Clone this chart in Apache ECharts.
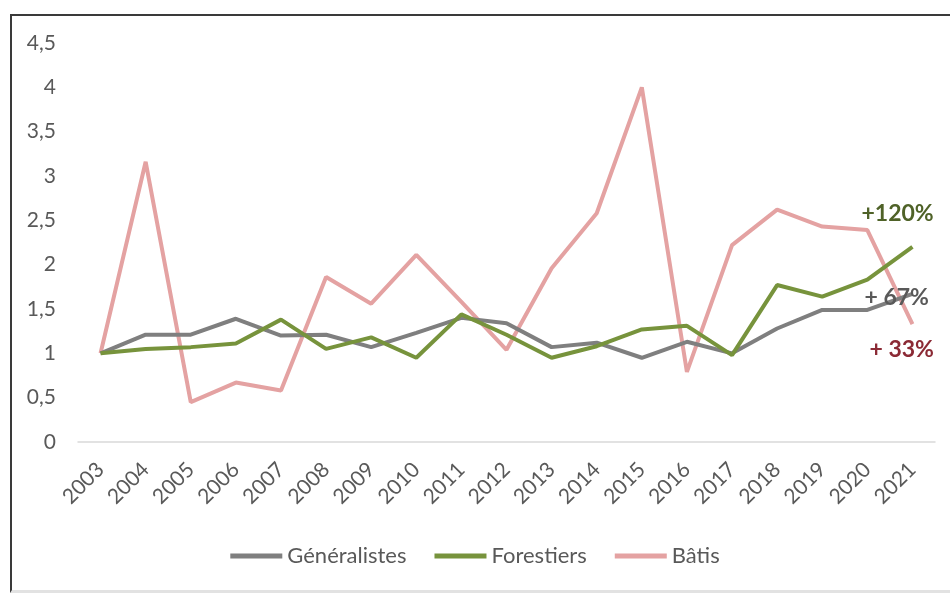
<!DOCTYPE html>
<html>
<head>
<meta charset="utf-8">
<script src="https://cdn.jsdelivr.net/npm/echarts@6/dist/echarts.min.js"></script>
<style>
  html, body { margin: 0; padding: 0; background: #fff; }
  #frame {
    position: absolute; left: 10px; top: 14px; width: 945px; height: 574px;
    border-left: 2px solid #3a3a3a; border-top: 2px solid #3a3a3a;
    border-bottom: 3px solid #e2e2e2;
  }
  #chart { position: absolute; left: 0; top: 0; width: 950px; height: 597px; }
</style>
</head>
<body>
<div id="frame"></div>
<div id="chart"></div>
<script>
  const years = ['2003', '2004', '2005', '2006', '2007', '2008', '2009', '2010', '2011', '2012',
                 '2013', '2014', '2015', '2016', '2017', '2018', '2019', '2020', '2021']
  const generalistes = [1.0, 1.21, 1.21, 1.39, 1.20, 1.21, 1.07, 1.23, 1.40, 1.34,
                        1.07, 1.12, 0.95, 1.13, 1.0, 1.28, 1.49, 1.49, 1.67]
  const forestiers = [1.0, 1.05, 1.07, 1.11, 1.38, 1.05, 1.18, 0.95, 1.44, 1.21,
                      0.95, 1.08, 1.27, 1.31, 0.98, 1.77, 1.64, 1.83, 2.2]
  const batis = [1.0, 3.16, 0.45, 0.67, 0.58, 1.86, 1.56, 2.11, 1.58, 1.04,
                 1.96, 2.58, 4.0, 0.79, 2.22, 2.62, 2.43, 2.39, 1.33]
  const seriesNames = ['Généralistes', 'Forestiers', 'Bâtis']
  const endTexts = ['+ 67%', '+120%', '+ 33%']
  const yTicks = [0, 0.5, 1, 1.5, 2, 2.5, 3, 3.5, 4, 4.5]

  const colors = ['#7f7f7f', '#77933c', '#e4a2a2']
  const labelColors = ['#595959', '#4f6228', '#8b2a35']
  const font = 'Lato, "Open Sans", sans-serif'

  var myChart = echarts.init(document.getElementById('chart'))

  function lineSeries(i, data, offset) {
    return {
      name: seriesNames[i],
      type: 'line',
      data: data,
      symbol: 'none',
      lineStyle: { width: 4, color: colors[i] },
      itemStyle: { color: colors[i] },
      z: i === 1 ? 3 : (i === 0 ? 2 : 1),
      endLabel: {
        show: true,
        formatter: endTexts[i],
        distance: 0,
        offset: offset,
        color: labelColors[i],
        fontFamily: font,
        fontWeight: 'bold',
        fontSize: 23
      }
    }
  }

  let option = {
    animation: false,
    color: colors,
    grid: { left: 78, right: 15, top: 43, bottom: 155, containLabel: false },
    legend: {
      data: seriesNames,
      top: 540,
      left: 'center',
      icon: 'rect',
      itemWidth: 52,
      itemHeight: 5,
      itemGap: 28,
      textStyle: { color: '#595959', fontSize: 22, fontFamily: font }
    },
    xAxis: {
      type: 'category',
      data: years,
      boundaryGap: true,
      axisLine: { show: true, lineStyle: { color: '#d9d9d9', width: 1.5 } },
      axisTick: { show: false },
      axisLabel: { rotate: 45, interval: 0, margin: 24, color: '#595959', fontSize: 21, fontFamily: font }
    },
    yAxis: {
      type: 'value',
      min: yTicks[0],
      max: yTicks[yTicks.length - 1],
      interval: 0.5,
      axisLine: { show: false },
      axisTick: { show: false },
      splitLine: { show: false },
      axisLabel: {
        margin: 22,
        color: '#595959',
        fontSize: 21,
        fontFamily: font,
        formatter: v => String(v).replace('.', ',')
      }
    },
    series: [
      lineSeries(0, generalistes, [-48, 4]),
      lineSeries(1, forestiers, [-51, -33]),
      lineSeries(2, batis, [-43, 26])
    ]
  }
  myChart.setOption(option)
</script>
</body>
</html>
